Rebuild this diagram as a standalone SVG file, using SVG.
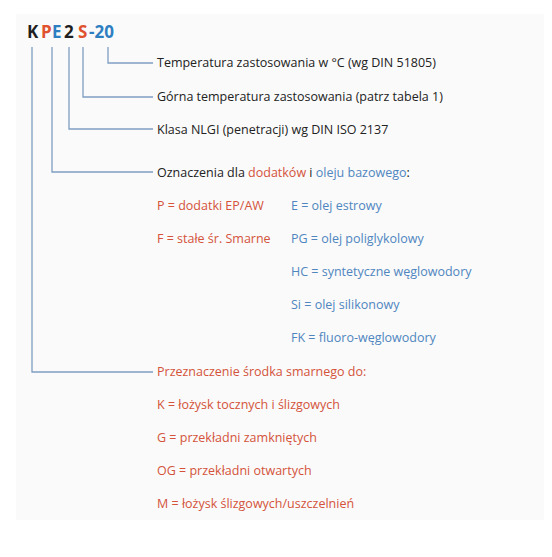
<svg xmlns="http://www.w3.org/2000/svg" width="552" height="557" viewBox="0 0 552 557">
<style>
.t{font-family:"Open Sans","Liberation Sans",sans-serif;font-size:12.5px}
.k{fill:#222}
.r{fill:#d4533a}
.b{fill:#4f86c0}
.h{font-family:"Open Sans","Liberation Sans",sans-serif;font-size:17px;font-weight:bold}
.c{fill:none;stroke:#7f9ec2;stroke-width:1.3}
</style>
<rect x="16" y="14" width="528" height="506" fill="#fafafa"/>
<g id="code">
<text class="h" y="38"><tspan x="27" fill="#1f1f1f">K</tspan><tspan x="41" fill="#e0512e">P</tspan><tspan x="52" fill="#2e7fc2">E</tspan><tspan x="64" fill="#1f1f1f">2</tspan><tspan x="78" fill="#e0512e">S</tspan><tspan x="89" fill="#2e7fc2">-20</tspan></text>
</g>
<g id="connectors">
<path class="c" d="M108 47V63H153"/>
<path class="c" d="M83 47V97H153"/>
<path class="c" d="M69 47V129H153"/>
<path class="c" d="M52 47V172H153"/>
<path class="c" d="M32 47V372H153"/>
</g>
<g id="temp"><text class="t k" x="157" y="67">Temperatura zastosowania w °C (wg DIN 51805)</text></g>
<g id="gorna"><text class="t k" x="157" y="101">Górna temperatura zastosowania (patrz tabela 1)</text></g>
<g id="klasa"><text class="t k" x="157" y="134">Klasa NLGI (penetracji) wg DIN ISO 2137</text></g>
<g id="oznaczenia"><text class="t k" x="157" y="177">Oznaczenia dla <tspan class="r">dodatków</tspan> i <tspan class="b">oleju bazowego</tspan>:</text>
<text class="t r" x="157" y="210">P = dodatki EP/AW</text>
<text class="t r" x="157" y="243">F = stałe śr. Smarne</text>
<text class="t b" x="291" y="210">E = olej estrowy</text>
<text class="t b" x="291" y="243">PG = olej poliglykolowy</text>
<text class="t b" x="291" y="276">HC = syntetyczne węglowodory</text>
<text class="t b" x="291" y="309">Si = olej silikonowy</text>
<text class="t b" x="291" y="342">FK = fluoro-węglowodory</text>
</g>
<g id="przeznaczenie"><text class="t r" x="157" y="376">Przeznaczenie środka smarnego do:</text>
<text class="t r" x="157" y="409">K = łożysk tocznych i ślizgowych</text>
<text class="t r" x="157" y="442">G = przekładni zamkniętych</text>
<text class="t r" x="157" y="475">OG = przekładni otwartych</text>
<text class="t r" x="157" y="508">M = łożysk ślizgowych/uszczelnień</text>
</g>
</svg>
